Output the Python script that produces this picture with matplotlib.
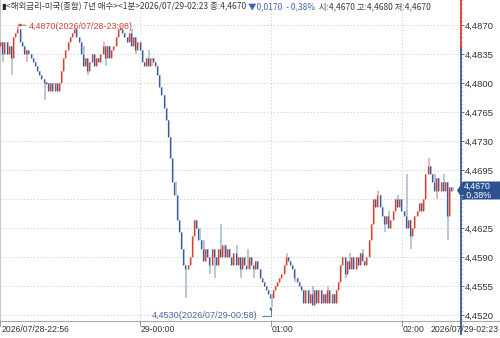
import matplotlib
matplotlib.use("Agg")
import matplotlib.pyplot as plt
from matplotlib.patches import Polygon
from matplotlib.lines import Line2D
from matplotlib.ticker import MultipleLocator, FixedLocator

# ==========================
# 1. 데이터 (1분봉, 2026/07/28 22:56 ~ 2026/07/29 02:23)
# ==========================
first_open = 4.4845
closes = [
    4.4850, 4.4835, 4.4850, 4.4835, 4.4845, 4.4830,
    4.4855, 4.4860, 4.4865,
    4.4850, 4.4845, 4.4835, 4.4840, 4.4835,
    4.4830, 4.4825, 4.4820, 4.4815,
    4.4810, 4.4805, 4.4800,
    4.4800, 4.4790, 4.4800, 4.4790, 4.4800, 4.4790, 4.4800,
    4.4815, 4.4830, 4.4840, 4.4850,
    4.4855, 4.4860, 4.4865, 4.4855, 4.4850,
    4.4835, 4.4820, 4.4830, 4.4815, 4.4825, 4.4835, 4.4820,
    4.4830, 4.4825,
    4.4835, 4.4845, 4.4830, 4.4845, 4.4830, 4.4840,
    4.4845, 4.4855, 4.4865, 4.4865, 4.4860, 4.4855,
    4.4850, 4.4860, 4.4845, 4.4855, 4.4840, 4.4850,
    4.4840, 4.4825, 4.4820,
    4.4830, 4.4820, 4.4830, 4.4825, 4.4820,
    4.4810, 4.4795, 4.4785,
    4.4770, 4.4755,
    4.4735, 4.4710,
    4.4680, 4.4665,
    4.4635, 4.4620,
    4.4600, 4.4580,
    4.4575, 4.4580,
    4.4590, 4.4615, 4.4635,
    4.4625, 4.4610,
    4.4600, 4.4585, 4.4600, 4.4590, 4.4580, 4.4600, 4.4590, 4.4580,
    4.4600, 4.4590, 4.4605, 4.4590, 4.4600,
    4.4590, 4.4580, 4.4595, 4.4580, 4.4590, 4.4575, 4.4590, 4.4580,
    4.4575, 4.4590, 4.4580, 4.4575, 4.4585,
    4.4575, 4.4565, 4.4560, 4.4555,
    4.4550, 4.4545, 4.4540, 4.4550,
    4.4555, 4.4560, 4.4565, 4.4570,
    4.4580, 4.4590, 4.4585, 4.4580,
    4.4575, 4.4565, 4.4560, 4.4555, 4.4550,
    4.4535, 4.4550, 4.4535, 4.4545, 4.4532, 4.4550, 4.4535, 4.4550,
    4.4535, 4.4545, 4.4535, 4.4550, 4.4535, 4.4545, 4.4535, 4.4550,
    4.4560, 4.4580,
    4.4590, 4.4570, 4.4585, 4.4575, 4.4590, 4.4575, 4.4590, 4.4580, 4.4595, 4.4585,
    4.4580, 4.4590,
    4.4610, 4.4630,
    4.4660, 4.4650, 4.4665, 4.4650,
    4.4640, 4.4630, 4.4640, 4.4625, 4.4635,
    4.4645, 4.4660, 4.4650, 4.4660, 4.4645,
    4.4640, 4.4625, 4.4635, 4.4615, 4.4625, 4.4640,
    4.4645, 4.4655, 4.4645, 4.4660,
    4.4690, 4.4700, 4.4690,
    4.4680, 4.4670, 4.4685, 4.4670, 4.4680, 4.4670, 4.4680,
    4.4640, 4.4675, 4.4670,
]
# 꼬리 (몸통 밖으로 나간 고가/저가)
wick_highs = {8: 4.4870, 34: 4.4868, 38: 4.4845, 47: 4.4850, 55: 4.4870,
              60: 4.4865, 68: 4.4840, 93: 4.4610, 101: 4.4630, 108: 4.4605,
              113: 4.4600, 131: 4.4595, 143: 4.4555, 150: 4.4555, 160: 4.4595,
              166: 4.4600, 173: 4.4670, 178: 4.4645, 182: 4.4665, 186: 4.4690,
              196: 4.4710, 199: 4.4690, 203: 4.4690}
wick_lows = {1: 4.4825, 5: 4.4810, 12: 4.4825, 20: 4.4780, 40: 4.4810,
             48: 4.4820, 62: 4.4835, 85: 4.4540, 96: 4.4570, 98: 4.4565,
             110: 4.4565, 116: 4.4565, 124: 4.4530, 135: 4.4560, 158: 4.4565,
             176: 4.4620, 188: 4.4600, 200: 4.4660, 205: 4.4610}

y_ticks = [4.4870, 4.4835, 4.4800, 4.4765, 4.4730, 4.4695, 4.4660,
           4.4625, 4.4590, 4.4555, 4.4520]
hidden_tick = 4.4660   # 현재가 박스에 가려짐
x_tick_minutes = [0, 64, 124, 184]
x_tick_labels = ['2026/07/28-22:56', '29-00:00', '01:00', '02:00']
last_time_label = '2026/07/29-02:23'

high_idx, high_text = 8, '4,4870(2026/07/28-23:08)'
low_idx, low_text = 124, '4,4530(2026/07/29-00:58)'
last_price, last_change = '4,4670', '- 0,38%'

header_parts = [
    ('▮', '#222222'),
    ('<해외금리-미국(종합) 7년 매수><1분>2026/07/29-02:23 종:4,4670 ', '#3a3a3a'),
    ('▼0,0170  - 0,38%', '#3d66b5'),
    ('  시:4,4670 고:4,4680 저:4,4670', '#3a3a3a'),
]

# ==========================
# 2. 스타일
# ==========================
W, H = 500, 338
RED, RED_L = '#d6402f', '#e8a59d'
BLUE, BLUE_L = '#3a5b98', '#a6b8d4'
GRID = '#c9c9c9'
KR = ['Noto Sans CJK KR', 'DejaVu Sans']
NUM = ['Liberation Sans Narrow', 'Liberation Sans', 'DejaVu Sans']

fig = plt.figure(figsize=(W / 100, H / 100), dpi=100)
ax = fig.add_axes([0, 17 / H, 460 / W, 321 / H])

# ==========================
# 3. 캔들
# ==========================
opens = [first_open] + closes[:-1]
for i, (o, c) in enumerate(zip(opens, closes)):
    up = c >= o
    dark, light = (RED, RED_L) if up else (BLUE, BLUE_L)
    lo, hi = min(o, c), max(o, c)
    if hi - lo < 0.0002:
        lo, hi = lo - 0.00012, hi + 0.00012
    wl = min(lo, wick_lows.get(i, lo))
    wh = max(hi, wick_highs.get(i, hi))
    ax.vlines(i + 0.28, wl, wh, color=light, lw=1.1, zorder=2)
    ax.vlines(i - 0.2, lo, hi, color=dark, lw=0.9, zorder=3)

ax.set_xlim(-0.2, 210.7)
ax.set_ylim(4.45128, 4.49002)

# 그리드
for v in y_ticks:
    ax.axhline(v, color=GRID, lw=0.6, ls=(0, (1.5, 2.5)), zorder=1)
for m in x_tick_minutes[1:]:
    ax.axvline(m, color=GRID, lw=0.6, ls=(0, (1.5, 2.5)), zorder=1)

# 오른쪽 가격축
ax.yaxis.tick_right()
ax.yaxis.set_major_locator(FixedLocator(y_ticks))
ax.yaxis.set_minor_locator(MultipleLocator(0.0005))
ax.set_yticklabels(['' if v == hidden_tick else f'{v:.4f}'.replace('.', ',')
                    for v in y_ticks],
                   family=NUM, fontsize=6.8, color='#333333')
ax.tick_params(axis='y', which='major', length=3, width=0.6, pad=0.5,
               color='#3a5b98')
ax.tick_params(axis='y', which='minor', length=1.5, width=0.5,
               color='#3a5b98')
ax.set_xticks([])
for s in ['top', 'right', 'bottom']:
    ax.spines[s].set_visible(False)
ax.spines['left'].set_color('#c8c8c8')
ax.spines['left'].set_linewidth(0.8)

# 최고/최저 표시
ax.annotate(high_text, xy=(high_idx, wick_highs[high_idx]),
            xytext=(11, -1), textcoords='offset pixels', ha='left', va='center',
            fontsize=6.4, family=NUM, color='#c8453a',
            arrowprops=dict(arrowstyle='-|>', color='#c8453a', lw=0.6,
                            mutation_scale=4, shrinkA=0, shrinkB=0))
ax.annotate(low_text, xy=(low_idx, wick_lows[low_idx]),
            xytext=(-13, -9), textcoords='offset pixels', ha='right', va='center',
            fontsize=6.6, family=NUM, color='#4c6a9c',
            arrowprops=dict(arrowstyle='-|>', color='#4c6a9c', lw=0.6,
                            mutation_scale=4, shrinkA=1, shrinkB=0,
                            connectionstyle='angle,angleA=0,angleB=90,rad=0'))

# ==========================
# 4. 프레임 (figure 픽셀 좌표)
# ==========================
def fx(px):
    return px / W

def fy(py):
    return 1 - py / H

fig.add_artist(Line2D([0, 1], [fy(321), fy(321)], color='#a8a8a8', lw=0.8))
fig.add_artist(Line2D([fx(460.5)] * 2, [fy(0), fy(48)], color='#d6402f', lw=1.3))
fig.add_artist(Line2D([fx(460.5)] * 2, [fy(48), fy(334)], color='#3a5b98', lw=1.3))

# 시간축
for m, lab in zip(x_tick_minutes, x_tick_labels):
    xd = ax.transData.transform((m, 0))[0]
    fig.add_artist(Line2D([xd / W] * 2, [fy(321), fy(326)], color='#888888', lw=0.6))
    fig.text((xd + 1) / W, fy(329.5), lab, ha='left', va='center',
             fontsize=6.2, family=NUM, color='#333333')
fig.text(fx(499), fy(329.5), last_time_label, ha='right', va='center',
         fontsize=6.2, family=NUM, color='#333333')

# 현재가 박스
box = Polygon([(fx(457), fy(190.5)), (fx(463), fy(181.5)), (fx(500), fy(181.5)),
               (fx(500), fy(199.5)), (fx(463), fy(199.5))],
              closed=True, transform=fig.transFigure, facecolor='#2e5290',
              edgecolor='none', zorder=5)
fig.add_artist(box)
fig.text(fx(477), fy(186.5), last_price, ha='center', va='center', fontsize=6.3,
         family=NUM, color='white', zorder=6)
fig.text(fx(476), fy(195), last_change, ha='center', va='center', fontsize=6.3,
         family=NUM, color='white', zorder=6)

# 헤더
fig.canvas.draw()
renderer = fig.canvas.get_renderer()
x = 1
for txt, col in header_parts:
    t = fig.text(x / W, fy(7), txt, ha='left', va='center', fontsize=6.1,
                 family=KR, color=col)
    x = t.get_window_extent(renderer=renderer).x1

fig.savefig('out.png', dpi=100)
